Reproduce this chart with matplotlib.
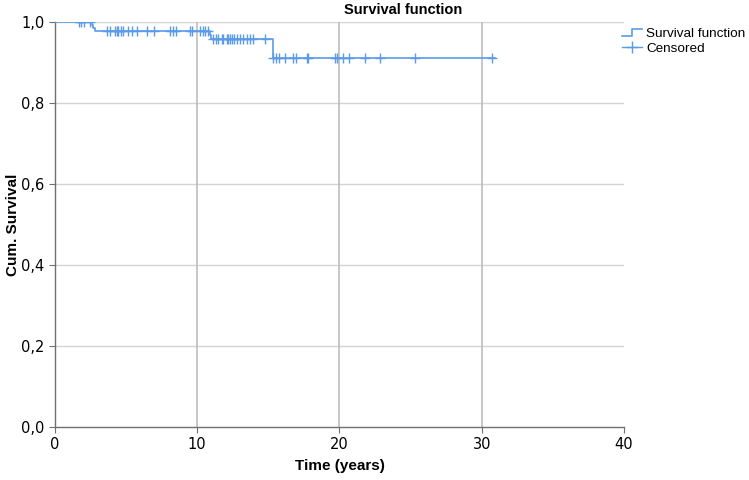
import numpy as np
import matplotlib.pyplot as plt
from matplotlib.legend_handler import HandlerBase
from matplotlib.lines import Line2D
from matplotlib.ticker import FuncFormatter

# Kaplan-Meier estimate
event_times = [2.6, 2.7, 2.8, 10.9, 11.0, 15.3]
surv_after = [0.993, 0.985, 0.977, 0.967, 0.957, 0.912]
last_time = 30.9

censor_times = [1.7, 1.85, 2.05, 2.46,
                3.68, 3.87, 4.24, 4.34, 4.45, 4.64, 4.8, 5.15, 5.39, 5.78,
                6.44, 6.98, 8.08, 8.31, 8.5, 9.49, 9.6, 10.19, 10.38, 10.54,
                10.77,
                11.13, 11.29, 11.48, 11.71, 11.83, 12.06, 12.18, 12.3, 12.41,
                12.58, 12.77, 13.0, 13.23, 13.47, 13.7, 13.94, 14.76,
                15.35, 15.54, 15.77, 16.16, 16.75, 16.94, 17.69, 17.8, 19.68,
                19.84, 20.22, 20.68, 21.79, 22.84, 25.3, 30.69]

BLUE = '#5a9be8'


def surv_at(t):
    idx = np.searchsorted(event_times, t, side='right')
    levels = np.concatenate([[1.0], surv_after])
    return levels[idx]


class StepHandler(HandlerBase):
    def create_artists(self, legend, orig_handle, xdescent, ydescent,
                       width, height, fontsize, trans):
        x = [0, width * 0.5, width * 0.5, width]
        y = [height * 0.1, height * 0.1, height * 0.9, height * 0.9]
        ln = Line2D(x, y, color=BLUE, lw=1.2, transform=trans)
        return [ln]


fig = plt.figure(figsize=(7.49, 4.80), dpi=100)
ax = fig.add_axes([0.0734, 0.1104, 0.7597, 0.8438])

xs = np.concatenate([[0], event_times, [last_time]])
ys = np.concatenate([[1.0], surv_after, [surv_after[-1]]])
ax.step(xs, ys, where='post', color=BLUE, lw=1.2, zorder=3)

ct = np.array(censor_times)
ax.plot(ct, surv_at(ct), linestyle='none', marker='+', color=BLUE,
        markersize=7, markeredgewidth=1.0, zorder=4)

ax.set_xlim(0, 40)
ax.set_ylim(0, 1.0)
ax.set_xticks([0, 10, 20, 30, 40])
ax.set_yticks([0, 0.2, 0.4, 0.6, 0.8, 1.0])
ax.yaxis.set_major_formatter(FuncFormatter(lambda v, p: f"{v:.1f}".replace('.', ',')))

for v in [0.2, 0.4, 0.6, 0.8, 1.0]:
    ax.axhline(v, color='#d4d4d4', lw=1.0, zorder=1)
for v in [10, 20, 30]:
    ax.axvline(v, color='#bdbdbd', lw=1.2, zorder=1)

for s in ['top', 'right']:
    ax.spines[s].set_visible(False)
for s in ['left', 'bottom']:
    ax.spines[s].set_color('#707070')
    ax.spines[s].set_linewidth(1.0)
ax.tick_params(colors='#707070', length=4, width=0.8, labelcolor='black',
               labelsize=10.5)

# title sits right of centre in the original
fig.text(0.538, 0.979, 'Survival function', ha='center', va='center',
         fontsize=10.5, fontweight='bold', family='Liberation Sans')
ax.set_xlabel('Time (years)', fontsize=11, fontweight='bold',
              family='Liberation Sans')
ax.set_ylabel('Cum. Survival', fontsize=11, fontweight='bold',
              family='Liberation Sans')
ax.xaxis.set_label_coords(0.5, -0.079)
ax.yaxis.set_label_coords(-0.062, 0.5)

h1 = Line2D([], [], color=BLUE)
h2 = Line2D([], [], color=BLUE, marker='+', markersize=8, lw=1.0)
fig.legend([h1, h2], ['Survival function', 'Censored'],
           handler_map={h1: StepHandler()},
           loc='upper left', bbox_to_anchor=(0.830, 0.942),
           frameon=False, handlelength=1.5, handletextpad=0.3,
           labelspacing=0.15, borderaxespad=0, borderpad=0,
           prop={'family': 'Liberation Sans', 'size': 9.7})

fig.savefig('out.png', dpi=100)
